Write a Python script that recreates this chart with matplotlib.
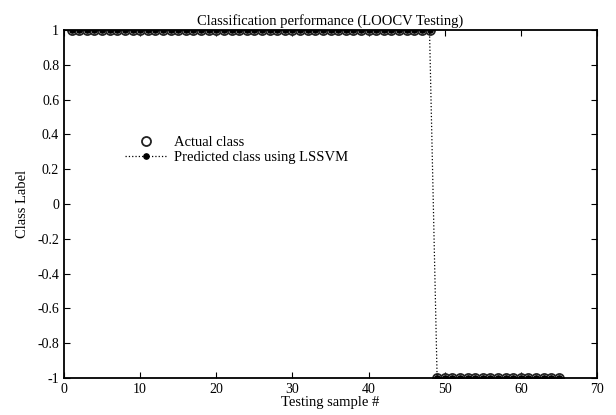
import numpy as np
import matplotlib
matplotlib.use('Agg')
import matplotlib.pyplot as plt

plt.rcParams['font.family'] = ['Liberation Serif', 'DejaVu Serif']

# 65 LOOCV test samples: first 48 class 1, remaining 17 class -1
n_pos = 48
n_neg = 17
samples = np.arange(1, n_pos + n_neg + 1)
actual = [1] * n_pos + [-1] * n_neg
predicted = [1] * n_pos + [-1] * n_neg

yticks = [1, 0.8, 0.6, 0.4, 0.2, 0, -0.2, -0.4, -0.6, -0.8, -1]
ytick_labels = ['1', '0.8', '0.6', '0.4', '0.2', '0', '-0.2', '-0.4', '-0.6', '-0.8', '-1']
xticks = [0, 10, 20, 30, 40, 50, 60, 70]

fig = plt.figure(figsize=(6.16, 4.15), dpi=100)
ax = fig.add_axes([0.1039, 0.0892, 0.8653, 0.8386])

ax.plot(samples, actual, 'o', mfc='white', mec='#222222', ms=6.5, mew=1.3,
        label='Actual class')
ax.plot(samples, predicted, ':', color='black', lw=0.9, marker='o', ms=3.8,
        mfc='black', mec='black', label='Predicted class using LSSVM')

ax.set_xlim(0, 70)
ax.set_ylim(-1, 1)
ax.set_xticks(xticks)
ax.set_yticks(yticks)
ax.set_yticklabels(ytick_labels)
ax.tick_params(direction='in', top=True, right=True, labelsize=10, length=4)
for s in ax.spines.values():
    s.set_linewidth(1.3)

ax.set_title('Classification performance (LOOCV Testing)', fontsize=10.5, pad=4)
ax.set_xlabel('Testing sample #', fontsize=10.5, labelpad=0)
ax.set_ylabel('Class Label', fontsize=10.5, labelpad=6)

ax.legend(loc='upper left', bbox_to_anchor=(0.1, 0.718), frameon=False,
          fontsize=10.5, handlelength=3.0, handletextpad=0.4, labelspacing=0.15,
          borderpad=0)

fig.savefig('out.png', dpi=100)
